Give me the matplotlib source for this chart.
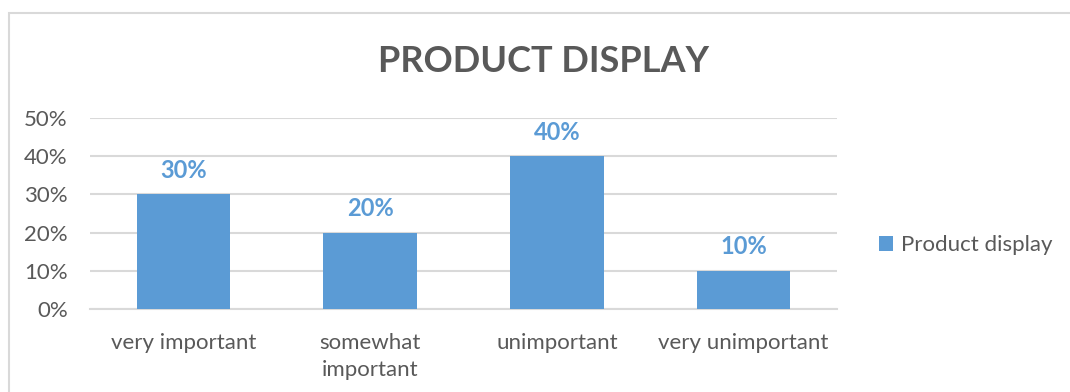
import matplotlib
matplotlib.use("Agg")
import matplotlib.pyplot as plt
from matplotlib.patches import Rectangle
from matplotlib.ticker import PercentFormatter

# Survey answers for product display importance
categories = ["very important", "somewhat\nimportant", "unimportant", "very unimportant"]
shares = [0.30, 0.20, 0.40, 0.10]
yticks = [0.0, 0.1, 0.2, 0.3, 0.4, 0.5]
series_name = "Product display"

bar_color = "#5B9BD5"
text_color = "#595959"
grid_color = "#D9D9D9"

plt.rcParams["font.family"] = ["Lato", "DejaVu Sans"]

W, H = 1070, 392
fig = plt.figure(figsize=(W / 100, H / 100), dpi=100)

# chart frame (runs off the right and bottom edges)
fig.patches.append(Rectangle((9 / W, -0.1), 1.2, 1 - 13 / H + 0.1,
                             transform=fig.transFigure, fill=False,
                             edgecolor=grid_color, linewidth=1.5))

ax = fig.add_axes([90 / W, 1 - 309 / H, 747 / W, 191 / H])

bars = ax.bar(range(len(categories)), shares, width=0.5, color=bar_color,
              label=series_name, zorder=3)

ax.set_xlim(-0.5, len(categories) - 0.5)
ax.set_ylim(0, 0.5)
ax.set_yticks(yticks)
ax.yaxis.set_major_formatter(PercentFormatter(1.0, decimals=0))
ax.set_xticks(range(len(categories)))
ax.set_xticklabels(categories, linespacing=1.45)

ax.grid(axis="y", color=grid_color, linewidth=1.5, zorder=0)
for side in ["top", "right", "left"]:
    ax.spines[side].set_visible(False)
ax.spines["bottom"].set_color(grid_color)
ax.spines["bottom"].set_linewidth(1.5)
ax.tick_params(axis="both", length=0, labelsize=16, labelcolor=text_color)
ax.tick_params(axis="y", pad=16)
ax.tick_params(axis="x", pad=17)

ax.bar_label(bars, labels=[f"{v:.0%}" for v in shares], padding=9,
             color=bar_color, fontsize=17, fontweight="bold")

fig.text(543 / W, 1 - 62 / H, "PRODUCT DISPLAY", ha="center", va="center",
         fontsize=26, fontweight="bold", color=text_color)

ax.legend(loc="center left", bbox_to_anchor=(859 / W, 1 - 245 / H),
          bbox_transform=fig.transFigure, frameon=False, fontsize=16,
          labelcolor=text_color, handlelength=0.65, handleheight=0.65,
          handletextpad=0.35)

fig.savefig("out.png", dpi=100)
